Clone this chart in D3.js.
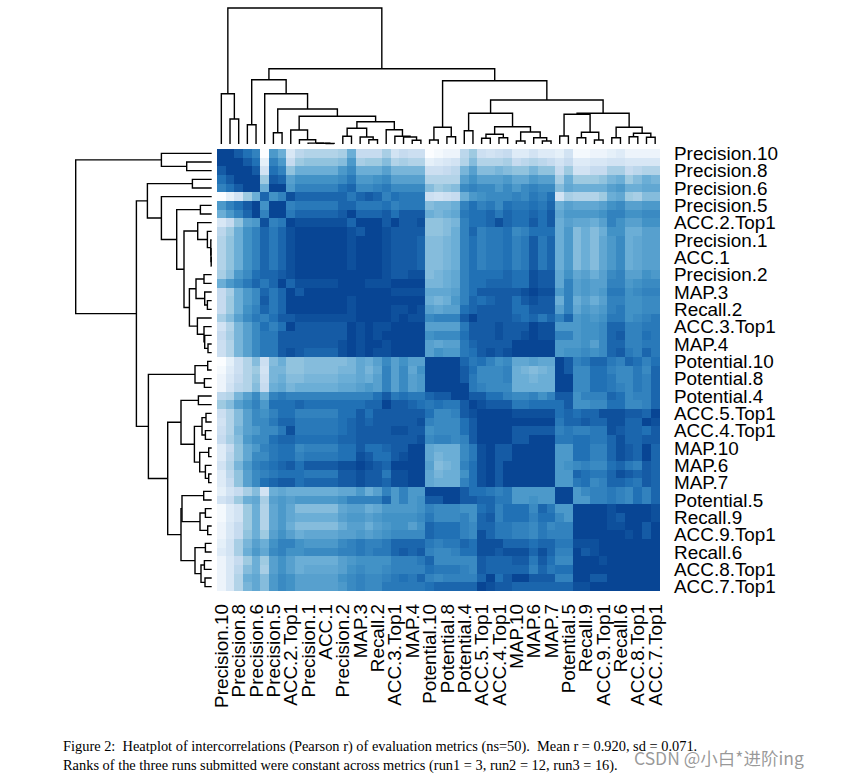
<!DOCTYPE html>
<html><head><meta charset="utf-8">
<script src="https://cdn.jsdelivr.net/npm/d3@7"></script>
<style>html,body{margin:0;padding:0;background:#fff}svg{display:block}</style>
</head><body><div id="chart"></div>
<script>
const metricLabels = ["Precision.10","Precision.8","Precision.6","Precision.5","ACC.2.Top1","Precision.1","ACC.1","Precision.2","MAP.3","Recall.2","ACC.3.Top1","MAP.4","Potential.10","Potential.8","Potential.4","ACC.5.Top1","ACC.4.Top1","MAP.10","MAP.6","MAP.7","Potential.5","Recall.9","ACC.9.Top1","Recall.6","ACC.8.Top1","ACC.7.Top1"];
const captionLines = ["Figure 2:  Heatplot of intercorrelations (Pearson r) of evaluation metrics (ns=50).  Mean r = 0.920, sd = 0.071.","Ranks of the three runs submitted were constant across metrics (run1 = 3, run2 = 12, run3 = 16)."];
const watermark = "CSDN @小白*进阶ing";

// Cluster tree: [merge height, left, right]; a plain number is a leaf position.
const clusterTree = [136,
 [50.3,0,[25,1,2]],
 [75.3,
  [64.3,[19.3,3,4],[50.3,5,[35,[11.3,6,7],[27.7,
    [14,8,[4.3,9,[0.9,10,[0.7,11,[0.5,12,13]]]]],
    [22.3,[15.7,[7.7,14,15],[7,16,[4.3,17,18]]],[14.3,19,[7.7,20,[7,21,[3.7,22,23]]]]]]]]],
  [63.3,[16.7,[4,24,25],[7.3,26,27]],
   [44,[30.7,[13.3,28,29],[17.3,[9.7,[5.7,30,31],[6.3,32,33]],[12,[3,34,35],[6.3,36,[3,37,38]]]]],
    [30.7,[29.7,[8,39,40],[11.7,[6.3,41,42],[4,43,44]]],[16.7,[6.3,45,46],[10.7,[7.3,47,48],[6.7,49,50]]]]]]]];

// Colour levels (0 = palest, 14 = darkest); the matrix is symmetric.
const blockTopLeft = [
[14],
[14,14],
[13,14,14],
[12,13,14,14],
[11,12,13,14,14],
[0,1.5,3,6,8,12.5],
[9.5,11,12,13,14,10,14],
[8,9.5,11,12.5,14,11,14,14],
[2.5,4,6.5,9,9.5,13.5,11,11.5,14],
[4.5,6,8,10,11,12.5,11.5,12.5,13.5,14],
[5,6.5,8,10,11,12.5,11.5,12.5,13.5,14,14],
[5,6.5,8,10,11,12.5,11.5,12.5,13.5,14,14,14],
[5,6.5,8,10,11,12.5,11.5,12.5,13.5,14,14,14,14],
[5,6.5,8,10,11,12.5,11.5,12.5,13.5,14,14,14,14,14],
[5.5,7,9.5,10.5,12,12.5,12.5,13,13.5,14,14,14,14,14,14],
[8,9.5,10.5,11.5,12.5,11.5,12.5,14,12.5,13.5,13.5,13.5,13.5,13.5,14,14],
[4,5.5,8,9.5,10.5,12.5,11.5,12.5,14,13,14,14,14,14,14,14,14],
[4,6,8,9.5,10.5,13,11.5,12.5,14,14,14,14,14,14,14,13.5,14,14],
[4,6,8,10,11,12.5,11.5,12.5,14,14,14,14,14,14,14,13.5,14,14,14],
[5.5,7,9,10.5,11.5,11,12,13,13,13.5,13.5,13.5,13.5,13.5,13.5,13.5,14,14,14,14],
[3,5,7.5,9,10.5,12,11,12,14,13,13,13,13,13,13,14,13.5,14,13.5,13.5,14],
[4,5.5,7.5,9,10.5,11.5,11.5,13,13,13,13,13,13,13,13,14,13.5,14,13.5,14,14,14],
[3.5,5,7.5,9,10.5,11.5,11.5,13,13,13,13,13,13,13,13.5,14,13.5,14,14,13.5,14,14,14],
[3.5,5,7.5,9,10.5,11.5,11.5,13,13.5,13,12.5,12.5,12.5,12.5,13.5,14,13.5,14,13.5,13.5,14,14,14,14],
[0,1.5,3.5,5,7,3.5,7,8,6.5,6.5,7,7,7,7,7,7.5,8.5,8,9,10.5,9,10,9,9,14]];

const blockLowerLeft = [
[0.5,2,3.5,5,6,3,7.5,7.5,6.5,6.5,7,7,7,7,7.5,7.5,8.5,7.5,8.5,11,9,10.5,8.5,10,14],
[1,2.5,4,5,6.5,3.5,7.5,8,7,7,7.5,7.5,7.5,7.5,8,8,8.5,8,9,11,9,10.5,9,9.5,14],
[1,3,4.5,5,7,4,8,8.5,7.5,8,8,8,8,8,8.5,8.5,9,9.5,9,11,9,10.5,9,9.5,14],
[4.5,5,7.5,9,10.5,8,11,11.5,11,11,11,11,11,11,11,11,11,11,12,13,11.5,12,11.5,11.5,12.5],
[6,7,9,10,11,9.5,12,12,12,12.5,12,12,12,12,12,12,12,12.5,12.5,14,13,13,12.5,12,11.5],
[3.5,5,7,9,10.5,10,11,12,12,11,11,11,11,11,12,12,13,12,13,13,13,13,13,13,12],
[3,5,7,9,10.5,10.5,11.5,12.5,12.5,11.5,11.5,11.5,11.5,11.5,12,12.5,13,12.5,13,13,13,13,13,13.5,11],
[3.5,5,7.5,9,9.5,10.5,10.5,11.5,13.5,11.5,11.5,11.5,11.5,11.5,12,12.5,13,13,13,13,13.5,13.5,13,13,10],
[4,5.5,7,9.5,10.5,10.5,12,12.5,12.5,12,12,12,12,12,12.5,12.5,13,13,13,13,13,13,13,13.5,10.5],
[2,4,6.5,8.5,9.5,11,11.5,12,12,10.5,11,11,11,11,12,12,13,12,12,12.5,13,13,14,14,8.5],
[2,4.5,6.5,8.5,10.5,10.5,11.5,12,12,11,11.5,11.5,11.5,11.5,12,12,13.5,13,12,12,13,13.5,14,14,8.5],
[3,5,7.5,9.5,11,11.5,12,12.5,13,12,13,13,13,13,13.5,13.5,14,13.5,13,12.5,14,14,14,14,9],
[2,4.5,6.5,9,10.5,11,11.5,12,12,12,11.5,11.5,11.5,11.5,13,13,13.5,13,13,11.5,13.5,13.5,14,14,8.5],
[2,4,6.5,9,10.5,12,12.5,13,13,12,12.5,12.5,12.5,12.5,13,13,13.5,13,13,12.5,13.5,13.5,14,14,8.5],
[1.5,3,4,5.5,7,3,8,8.5,8,8,8,8,8,8,8.5,8.5,9.5,8,9,11,9.5,11,9.5,9.5,14],
[3,4,6,8,8.5,5.5,9,9.5,9,9.5,9.5,9.5,9.5,9.5,10,11,11,11,11,12.5,9.5,11,9.5,10,13],
[0.5,2,3,6,8,5,8.5,9.5,8.5,7,7,7,7,7,8.5,9,9,8,8.5,9.5,9.5,9.5,9.5,10,11],
[0.5,2,3,6,8,5,8.5,9.5,8.5,8,8,8,8,8,9,9.5,9.5,9,9.5,10,10,10,10,10.5,11.5],
[1,2.5,4,6,8,5,8.5,9.5,8,7,7,7,7,7,8,9,9,8,9,9.5,10,10,9,10,12.5],
[1,2.5,4,6.5,8,6,9,10,9,8,8.5,8.5,8.5,8.5,9,9,9.5,9,9.5,10,10.5,10.5,10.5,10.5,12.5],
[1.5,3,5.5,7.5,9,8,10,11,11,10,9.5,9.5,9.5,9.5,10.5,11,11.5,11,11,11.5,12.5,12.5,12.5,12.5,11.5],
[2,3,5.5,8,9.5,8.5,10.5,11,10,10,10.5,10.5,10.5,10.5,11,11,11.5,11,11.5,11.5,12.5,13,12.5,13,11],
[1,2.5,4,6,8,6,9,10,9,8,8,8,8,8,9,9.5,10,10,10,10,11,11,11,11.5,12.5],
[1,2.5,4.5,7,8,5.5,9,10,9,8,8.5,8.5,8.5,8.5,9,10,10.5,10,10,10.5,11,11,11,11,12],
[1,2.5,5,8,8.5,7,9.5,10.5,10,9,9,9,9,9,10,10.5,11,10.5,10.5,11,11.5,12,11.5,12.5,11],
[1,2.5,5,7.5,8.5,7,9.5,10.5,10,9,9,9,9,9,9.5,10.5,11,10.5,10.5,11.5,11.5,11.5,11.5,11.5,12]];

const blockLowerRight = [
[14],
[14,14],
[14,14,14],
[13,13,14,14],
[12,11.5,11.5,13,14],
[10.5,10.5,11,13,13.5,14],
[10.5,10.5,10.5,12,13,14,14],
[10.5,10.5,10.5,12,13,14,14,14],
[11,11,10.5,11,13,14,14,14,14],
[8,8,8,10.5,11.5,13.5,14,13,13,14],
[7.5,8,8,10.5,11.5,13.5,14,13,13,14,14],
[7,7.5,8,11,12,13.5,14,13,14,14,14,14],
[7.5,8,8,10,12,13.5,14,13,14,14,14,14,14],
[8,8,8,11,12,13.5,14,13,14,14,14,14,14,14],
[14,14,14,13,12,12,11.5,11,11.5,9.5,9.5,9.5,9.5,9.5,14],
[13,14,14,13,13,12.5,12.5,11.5,11.5,9.5,9.5,10,9.5,9.5,14,14],
[10.5,10.5,10.5,10,10,12,12.5,11,12,12,12,10.5,12.5,11.5,9.5,9.5,14],
[10.5,10.5,10.5,11,10,12.5,13,11,12,12,12,11,12,12,10.5,9.5,14,14],
[12,12,12,11,10.5,12.5,12.5,11.5,11.5,11,11,10.5,11.5,10.5,11,11,14,14,14],
[12,12,12,11,10.5,13.5,12.5,11.5,11.5,11,11,10.5,11.5,11,11,11,14,14,14,14],
[11,11.5,11.5,12.5,12,13.5,13.5,13.5,12.5,12.5,12.5,12,12.5,12.5,11.5,11.5,13.5,13.5,13.5,14,14],
[10.5,10.5,11,12,12,13.5,13.5,13,13.5,13.5,13.5,12.5,13.5,12.5,11,11,14,13,13.5,14,14,14],
[10.5,10.5,10.5,10.5,10.5,13,12.5,12.5,12.5,13,13,11.5,13,12,10.5,10.5,14,14,14,13.5,14,14,14],
[11.5,11.5,11.5,11,10.5,13,12.5,12.5,12.5,12.5,12.5,11,12.5,11.5,12,12,14,14,14,14,14,14,14,14],
[10.5,11,11,11,11,12.5,14,12,13,14,14,13,13,13,11,11,14,14,13,13,14,14,14,14,14],
[12.5,12.5,12.5,12.5,12.5,14,13.5,13,13,12.5,12.5,12.5,12.5,12.5,12.5,12.5,13.5,13.5,14,14,14,14,14,14,14,14]];

const paletteLevels = [0,2,4,6,8,10,12,14];
const paletteColors = ["#fbfdff","#deebf7","#c6dbef","#9ecae1","#6baed6","#4292c6","#2171b5","#084594"];

const W = 851, H = 779;
const svg = d3.select("#chart").append("svg").attr("width",W).attr("height",H);
const n = 51, order = d3.range(n);
const xCell = d3.scaleBand().domain(order).range([217,659.5]);
const yCell = d3.scaleBand().domain(order).range([149,591]);
const color = d3.scaleLinear().domain(paletteLevels).range(paletteColors);
const topHeight = d3.scaleLinear().domain([0,136.3]).range([144,7.7]);
const leftHeight = d3.scaleLinear().domain([0,136.3]).range([211.7,75.4]);

function level(i,j){
  const r = Math.max(i,j), c = Math.min(i,j);
  if (r < 25) return blockTopLeft[r][c];
  return c < 25 ? blockLowerLeft[r-25][c] : blockLowerRight[r-25][c-25];
}
const cells = d3.cross(order,order,(i,j)=>({i,j,v:level(i,j)}));
svg.append("g").attr("shape-rendering","crispEdges").selectAll("rect").data(cells).join("rect")
  .attr("x",d=>xCell(d.j)).attr("y",d=>yCell(d.i))
  .attr("width",xCell.bandwidth()+0.4).attr("height",yCell.bandwidth()+0.4)
  .attr("fill",d=>color(d.v));

// Dendrograms: build segments from the tree.
function segments(node,segs){
  if (typeof node === "number") return {pos:node,h:0};
  const a = segments(node[1],segs), b = segments(node[2],segs);
  segs.push({h:node[0],a,b});
  return {pos:(a.pos+b.pos)/2,h:node[0]};
}
const segs = []; segments(clusterTree,segs);
const xPos = p => xCell(0)+(p+0.5)*xCell.step();
const yPos = p => yCell(0)+(p+0.5)*yCell.step();
const topPath = s => `M${xPos(s.a.pos)},${topHeight(s.a.h)}V${topHeight(s.h)}H${xPos(s.b.pos)}V${topHeight(s.b.h)}`;
const leftPath = s => `M${leftHeight(s.a.h)},${yPos(s.a.pos)}H${leftHeight(s.h)}V${yPos(s.b.pos)}H${leftHeight(s.b.h)}`;
const dendro = svg.append("g").attr("fill","none").attr("stroke","#000").attr("stroke-width",1.4);
dendro.selectAll("path.t").data(segs).join("path").attr("class","t").attr("d",topPath);
dendro.selectAll("path.l").data(segs).join("path").attr("class","l").attr("d",leftPath);

// Labels (every second metric is labelled).
const labelFont = "'Liberation Sans',Arial,sans-serif";
svg.append("g").selectAll("text").data(metricLabels).join("text")
  .attr("x",674).attr("y",(d,i)=>yPos(i*2)).attr("dy","0.35em")
  .attr("font-family",labelFont).attr("font-size",18.9).attr("fill","#000").text(d=>d);
svg.append("g").selectAll("text").data(metricLabels).join("text")
  .attr("transform",(d,i)=>`translate(${xPos(i*2)},604) rotate(-90)`)
  .attr("text-anchor","end").attr("dy","0.35em")
  .attr("font-family",labelFont).attr("font-size",18.9).attr("fill","#000").text(d=>d);

// Caption and watermark.
svg.append("g").selectAll("text").data(captionLines).join("text")
  .attr("x",63).attr("y",(d,i)=>751+i*19)
  .attr("font-family","'Liberation Serif','Times New Roman',serif").attr("font-size",14.4).attr("fill","#000")
  .attr("xml:space","preserve").style("white-space","pre").text(d=>d);
svg.append("text").attr("x",634).attr("y",765)
  .attr("font-family","'Noto Sans CJK SC','Noto Sans',sans-serif").attr("font-size",17.5)
  .attr("fill","#777").attr("fill-opacity",0.75).text(watermark);
</script></body></html>
